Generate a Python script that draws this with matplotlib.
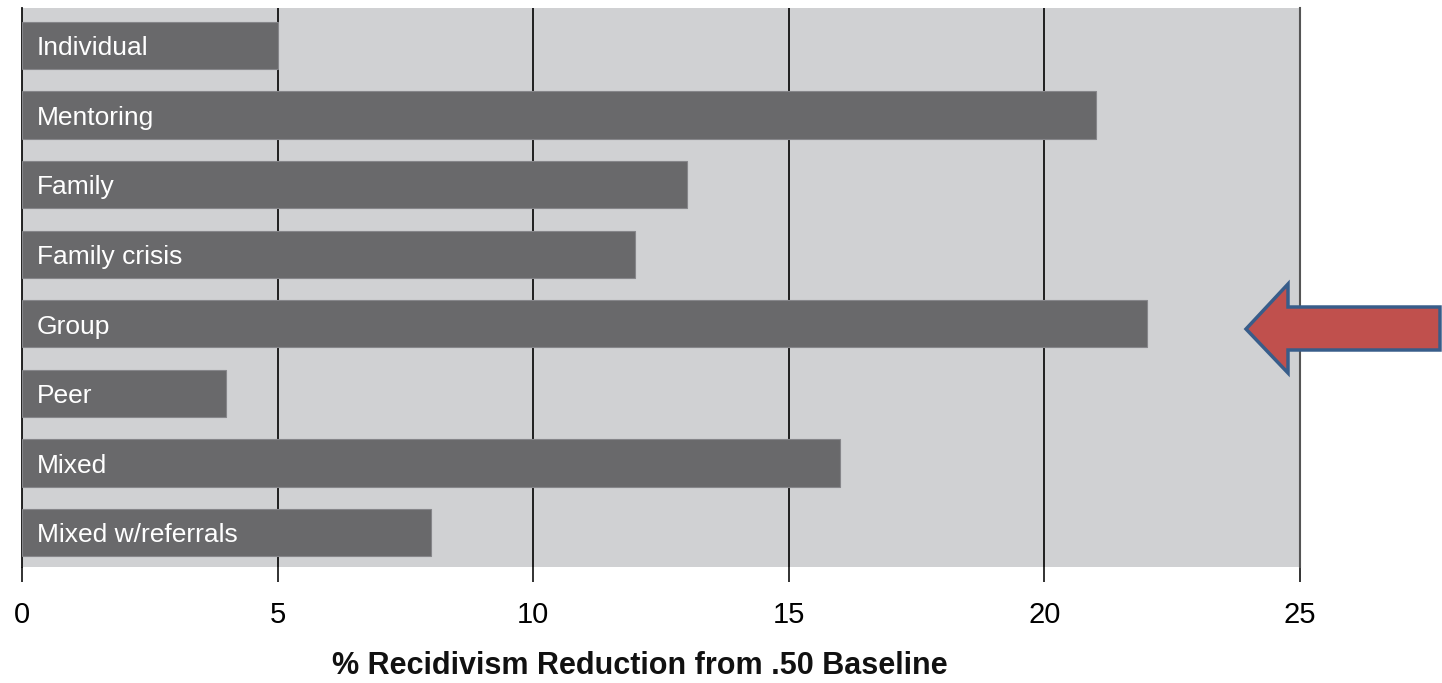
import matplotlib
matplotlib.use("Agg")
import matplotlib.pyplot as plt
from matplotlib.patches import Polygon

categories = ["Individual", "Mentoring", "Family", "Family crisis", "Group",
              "Peer", "Mixed", "Mixed w/referrals"]
values = [5, 21, 13, 12, 22, 4, 16, 8]
xticks = [0, 5, 10, 15, 20, 25]
xlabel = "% Recidivism Reduction from .50 Baseline"

plt.rcParams['font.family'] = ['Liberation Sans Narrow', 'Liberation Sans', 'DejaVu Sans']

W, H = 1442, 683
fig = plt.figure(figsize=(W / 100, H / 100), dpi=100)
fig.patch.set_facecolor("white")
ax = fig.add_axes([22 / W, 1 - 567.3 / H, (1300 - 22) / W, (567.3 - 8) / H])
ax.set_facecolor("#d0d1d3")

ypos = list(range(len(categories)))
ax.barh(ypos, values, height=0.68, color="#69696b", edgecolor="#86868a",
        linewidth=0.8, zorder=3)
for y, c in zip(ypos, categories):
    ax.text(0.29, y + 0.04, c, color="white", fontsize=19, va="center",
            ha="left", zorder=4)

ax.set_xlim(0, 25)
ax.set_ylim(7.5, -0.54)
ax.set_yticks([])
ax.set_xticks(xticks)
ax.set_xticklabels([str(t) for t in xticks], fontsize=21)
ax.tick_params(axis="x", length=11, width=1.3, color="#222222", pad=13)
for t in xticks[1:-1]:
    ax.axvline(t, color="#111111", linewidth=1.3, zorder=1)
for s in ["top", "bottom"]:
    ax.spines[s].set_visible(False)
ax.spines["left"].set_color("#111111")
ax.spines["left"].set_linewidth(1.3)
ax.spines["right"].set_color("#555555")
ax.spines["right"].set_linewidth(1.5)

fig.text(640 / W, 1 - 666 / H, xlabel, fontsize=22, fontweight="bold",
         ha="center", va="center", color="#111111")

# annotation arrow (figure pixel coords)
pts = [(1246, 329), (1288, 284), (1288, 307), (1440, 307), (1440, 350),
       (1288, 350), (1288, 373)]
arrow = Polygon([(x / W, 1 - y / H) for x, y in pts], closed=True,
                transform=fig.transFigure, facecolor="#c0504d",
                edgecolor="#385d8a", linewidth=2.5, zorder=10, clip_on=False)
fig.patches.append(arrow)

fig.savefig("out.png", dpi=100)
